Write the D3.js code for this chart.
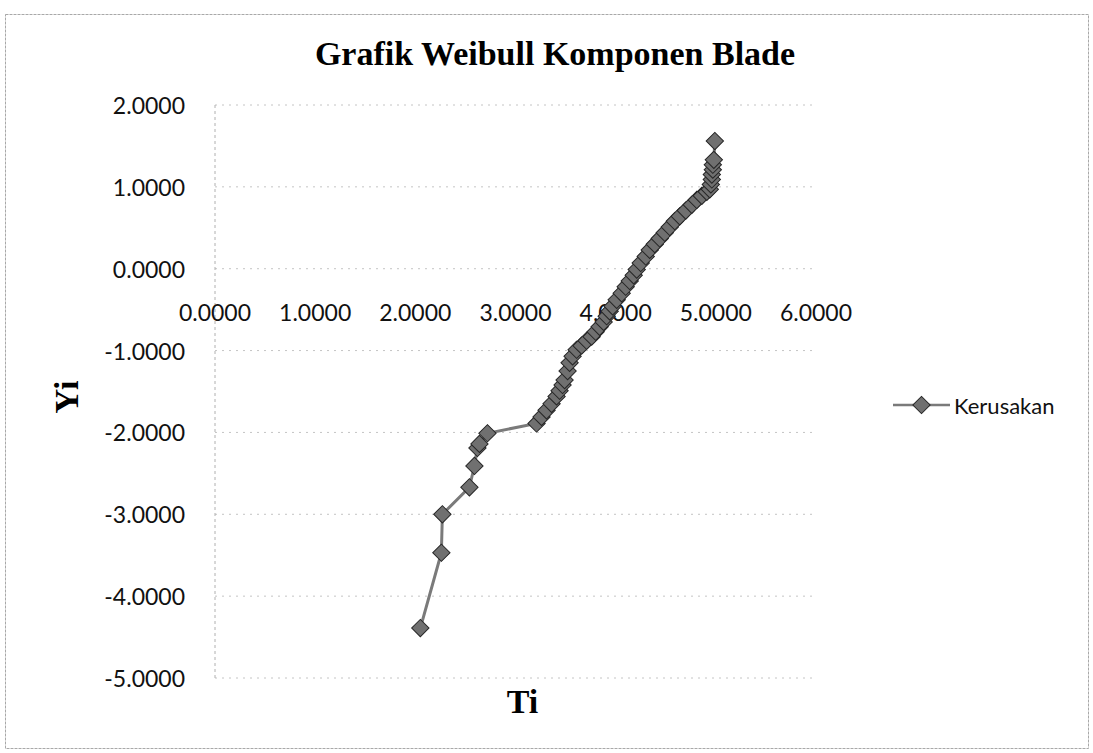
<!DOCTYPE html>
<html>
<head>
<meta charset="utf-8">
<script src="https://cdn.jsdelivr.net/npm/d3@7"></script>
<style>
  body { margin: 0; background: #fff; }
  svg { display: block; }
</style>
</head>
<body>
<div class="chart"></div>
<script>
const WIDTH = 1093
const HEIGHT = 753
const TITLE = "Grafik Weibull Komponen Blade"
const X_TITLE = "Ti"
const Y_TITLE = "Yi"
const SERIES_NAME = "Kerusakan"

// values
const TI = [2.05, 2.26, 2.27, 2.54, 2.59, 2.62, 2.64, 2.72,
  3.21, 3.26, 3.31, 3.36, 3.41, 3.44, 3.47, 3.49, 3.52, 3.54,
  3.57, 3.61, 3.66, 3.71, 3.76, 3.80, 3.84, 3.88, 3.91, 3.94,
  3.97, 4.01, 4.06, 4.10, 4.14, 4.18, 4.21, 4.25, 4.30, 4.34,
  4.39, 4.44, 4.49, 4.54, 4.59, 4.64, 4.70, 4.76, 4.81, 4.86,
  4.91, 4.94, 4.95, 4.96, 4.96, 4.97, 4.97, 4.98, 4.99]
const YI = [-4.39, -3.47, -3.00, -2.67, -2.41, -2.19, -2.14, -2.01,
  -1.89, -1.81, -1.73, -1.65, -1.56, -1.49, -1.42, -1.36, -1.25, -1.15,
  -1.07, -0.99, -0.94, -0.88, -0.83, -0.77, -0.71, -0.65, -0.58, -0.52,
  -0.46, -0.38, -0.30, -0.22, -0.15, -0.08, -0.01, 0.07, 0.15, 0.23,
  0.30, 0.37, 0.44, 0.51, 0.58, 0.64, 0.71, 0.78, 0.84, 0.89,
  0.94, 0.97, 1.03, 1.09, 1.15, 1.21, 1.27, 1.33, 1.56]
const X_TICKS = [0, 1, 2, 3, 4, 5, 6]
const Y_TICKS = [2, 1, 0, -1, -2, -3, -4, -5]

const LEFT = 215
const RIGHT = 816
const TOP = 105
const BOTTOM = 678
const TICK_FONT = "Lato, 'Open Sans', sans-serif"
const SERIF = "'Liberation Serif', 'Times New Roman', serif"
const LINE_COLOR = "#7a7a7a"
const MARKER_FILL = "#707070"
const MARKER_STROKE = "#262626"

const data = TI.map((t, i) => ({ t: t, y: YI[i] }))
// plain hyphen for negatives, like the source sheet
const fmt = d3.formatLocale({ decimal: ".", thousands: ",", grouping: [3], currency: ["", ""], minus: "-" }).format(".4f")

const svg = d3.select(".chart").append("svg").attr("width", WIDTH).attr("height", HEIGHT)

svg.append("rect").attr("width", WIDTH).attr("height", HEIGHT).attr("fill", "#fff")

// chart border
svg.append("rect")
  .attr("x", 5.5).attr("y", 14.5).attr("width", 1083).attr("height", 734)
  .attr("fill", "none").attr("stroke", "#a8a8a8").attr("stroke-width", 1)
  .attr("stroke-dasharray", "3,1")

const xScale = d3.scaleLinear().domain([0, 6]).range([LEFT, RIGHT])
const yScale = d3.scaleLinear().domain([-5, 2]).range([BOTTOM, TOP])

// gridlines
svg.append("g").selectAll("line").data(Y_TICKS).enter().append("line")
  .attr("x1", LEFT).attr("x2", RIGHT)
  .attr("y1", d => yScale(d)).attr("y2", d => yScale(d))
  .attr("stroke", "#c4c4c4").attr("stroke-width", 1)
  .attr("stroke-dasharray", "2,5")

// y axis line
svg.append("line")
  .attr("x1", LEFT).attr("x2", LEFT).attr("y1", TOP).attr("y2", BOTTOM)
  .attr("stroke", "#b0b0b0").attr("stroke-width", 1).attr("stroke-dasharray", "3,3")

// y tick labels
svg.append("g").selectAll("text").data(Y_TICKS).enter().append("text")
  .attr("x", LEFT - 30).attr("y", d => yScale(d))
  .attr("text-anchor", "end").attr("dominant-baseline", "central")
  .attr("font-family", TICK_FONT).attr("font-size", 23).attr("fill", "#111")
  .text(d => fmt(d))

// x tick labels, sitting under the zero line
svg.append("g").selectAll("text").data(X_TICKS).enter().append("text")
  .attr("x", d => xScale(d)).attr("y", yScale(0) + 43)
  .attr("text-anchor", "middle").attr("dominant-baseline", "central")
  .attr("font-family", TICK_FONT).attr("font-size", 23).attr("fill", "#111")
  .text(d => fmt(d))

// titles
svg.append("text")
  .attr("x", 555).attr("y", 65).attr("text-anchor", "middle")
  .attr("font-family", SERIF).attr("font-weight", "bold").attr("font-size", 34)
  .text(TITLE)

svg.append("text")
  .attr("x", (LEFT + RIGHT) / 2 + 7).attr("y", 713).attr("text-anchor", "middle")
  .attr("font-family", SERIF).attr("font-weight", "bold").attr("font-size", 34)
  .text(X_TITLE)

svg.append("text")
  .attr("transform", "translate(78, 397) rotate(-90)").attr("text-anchor", "middle")
  .attr("font-family", SERIF).attr("font-weight", "bold").attr("font-size", 34)
  .text(Y_TITLE)

// series
const line = d3.line().x(d => xScale(d.t)).y(d => yScale(d.y))
svg.append("path").datum(data)
  .attr("d", line).attr("fill", "none")
  .attr("stroke", LINE_COLOR).attr("stroke-width", 3)

const diamond = d3.symbol().type(d3.symbolSquare).size(150)
svg.append("g").selectAll("path").data(data).enter().append("path")
  .attr("d", diamond)
  .attr("transform", d => `translate(${xScale(d.t)}, ${yScale(d.y)}) rotate(45)`)
  .attr("fill", MARKER_FILL).attr("stroke", MARKER_STROKE).attr("stroke-width", 1)

// legend
const legend = svg.append("g").attr("transform", "translate(893, 405)")
legend.append("line").attr("x1", 0).attr("x2", 57).attr("y1", 0).attr("y2", 0)
  .attr("stroke", LINE_COLOR).attr("stroke-width", 2.5)
legend.append("path").attr("d", diamond).attr("transform", "translate(28.5, 0) rotate(45)")
  .attr("fill", MARKER_FILL).attr("stroke", MARKER_STROKE).attr("stroke-width", 1)
legend.append("text").attr("x", 61).attr("y", 0).attr("dominant-baseline", "central")
  .attr("font-family", TICK_FONT).attr("font-size", 22).attr("fill", "#111")
  .text(SERIES_NAME)
</script>
</body>
</html>
